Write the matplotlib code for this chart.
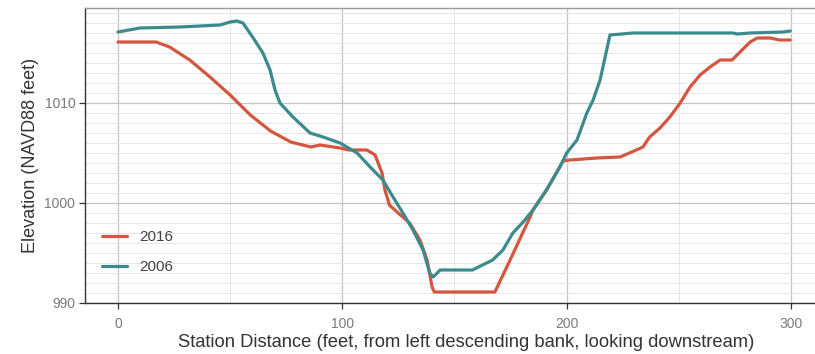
import matplotlib.pyplot as plt
from matplotlib.ticker import MultipleLocator

plt.rcParams['font.family'] = ['Liberation Sans', 'DejaVu Sans']

# cross-section survey, 2016
station_2016 = [0, 17, 23, 32, 41, 50, 59, 68, 77, 86, 90, 99, 103, 111, 114.6,
                117.7, 119, 121, 124.4, 130, 134.6, 137.8, 140, 141, 168, 174.8,
                183.7, 185, 191, 198.4, 201.5, 213.5, 223.8, 228, 234, 237,
                241.6, 246, 250.6, 255, 259.5, 263.9, 268.4, 273.7, 277.3,
                281.8, 284.9, 290.7, 295, 299.6]
elev_2016 = [1016.1, 1016.1, 1015.6, 1014.3, 1012.6, 1010.8, 1008.8, 1007.2,
             1006.1, 1005.6, 1005.8, 1005.5, 1005.3, 1005.3, 1004.8, 1003.0,
             1001.3, 999.8, 999.1, 998.0, 996.3, 994.3, 991.6, 991.1, 991.1,
             994.3, 998.6, 999.3, 1001.3, 1004.2, 1004.3, 1004.5, 1004.6,
             1005.0, 1005.6, 1006.6, 1007.5, 1008.6, 1010.0, 1011.6, 1012.8,
             1013.6, 1014.3, 1014.3, 1015.1, 1016.1, 1016.5, 1016.5, 1016.3,
             1016.3]

# cross-section survey, 2006
station_2006 = [0, 9.8, 27.6, 45.5, 50, 53, 55.7, 60, 64.6, 67.8, 70, 72.2, 78,
                85.6, 91.4, 99, 106.6, 112.4, 118.1, 122.6, 127, 131.5, 136,
                139, 140.5, 143.6, 158, 167, 171.6, 176, 180.6, 185, 191, 197,
                200, 204.6, 209, 211.8, 214.9, 219.3, 229.6, 247.4, 274, 276,
                281.8, 296.5, 299.6]
elev_2006 = [1017.1, 1017.5, 1017.6, 1017.8, 1018.1, 1018.2, 1018.0, 1016.6,
             1015.0, 1013.3, 1011.3, 1010.0, 1008.6, 1007.0, 1006.6, 1006.0,
             1005.0, 1003.6, 1002.3, 1000.6, 999.0, 997.3, 995.3, 993.0,
             992.6, 993.3, 993.3, 994.3, 995.3, 997.0, 998.1, 999.3, 1001.3,
             1003.6, 1005.0, 1006.3, 1009.0, 1010.3, 1012.3, 1016.8, 1017.0,
             1017.0, 1017.0, 1016.9, 1017.0, 1017.1, 1017.2]

RED = '#d5563f'
TEAL = '#3b8b8c'

fig = plt.figure(figsize=(8.15, 3.54), dpi=100)
ax = fig.add_axes([85 / 815, 1 - 303 / 354, 730 / 815, 295 / 354])

ax.plot(station_2016, elev_2016, color=RED, lw=2.3, label='2016',
        solid_capstyle='round', zorder=3)
ax.plot(station_2006, elev_2006, color=TEAL, lw=2.3, label='2006',
        solid_capstyle='round', zorder=3)

ax.set_xlim(-14.7, 310.7)
ax.set_ylim(990, 1019.5)

ax.xaxis.set_major_locator(MultipleLocator(100))
ax.xaxis.set_minor_locator(MultipleLocator(50))
ax.yaxis.set_major_locator(MultipleLocator(10))
ax.yaxis.set_minor_locator(MultipleLocator(1))

# grid: major lines darker, minor lines faint
ax.grid(which='major', color='#c4c4c4', lw=0.9, zorder=0)
ax.grid(which='minor', color='#e6e6e6', lw=0.7, zorder=0)
ax.set_axisbelow(True)

ax.tick_params(which='major', direction='out', length=4, width=0.9,
               color='#333333', labelcolor='#7a7a7a', labelsize=10)
ax.tick_params(axis='x', which='major', pad=6)
ax.tick_params(axis='y', which='major', pad=3)
ax.tick_params(which='minor', length=0)

for side in ['left', 'bottom']:
    ax.spines[side].set_color('#333333')
    ax.spines[side].set_linewidth(1.0)
ax.spines['top'].set_color('#9a9a9a')
ax.spines['top'].set_linewidth(1.0)
ax.spines['right'].set_visible(False)

ax.set_xlabel('Station Distance (feet, from left descending bank, looking downstream)',
              fontsize=13.2, color='#333333')
ax.xaxis.set_label_coords(0.522, -0.105)
ax.set_ylabel('Elevation (NAVD88 feet)', fontsize=13, color='#333333', labelpad=4)

# legend sits inside the panel, lower left
leg = ax.legend(loc='upper left', bbox_to_anchor=(96 / 815, 1 - 224 / 354),
                bbox_transform=fig.transFigure, frameon=False,
                fontsize=11, handlelength=1.6, handletextpad=0.8,
                labelspacing=1.05, borderaxespad=0.0, borderpad=0.4)
for t in leg.get_texts():
    t.set_color('#444444')

fig.savefig('out.png', dpi=100)
